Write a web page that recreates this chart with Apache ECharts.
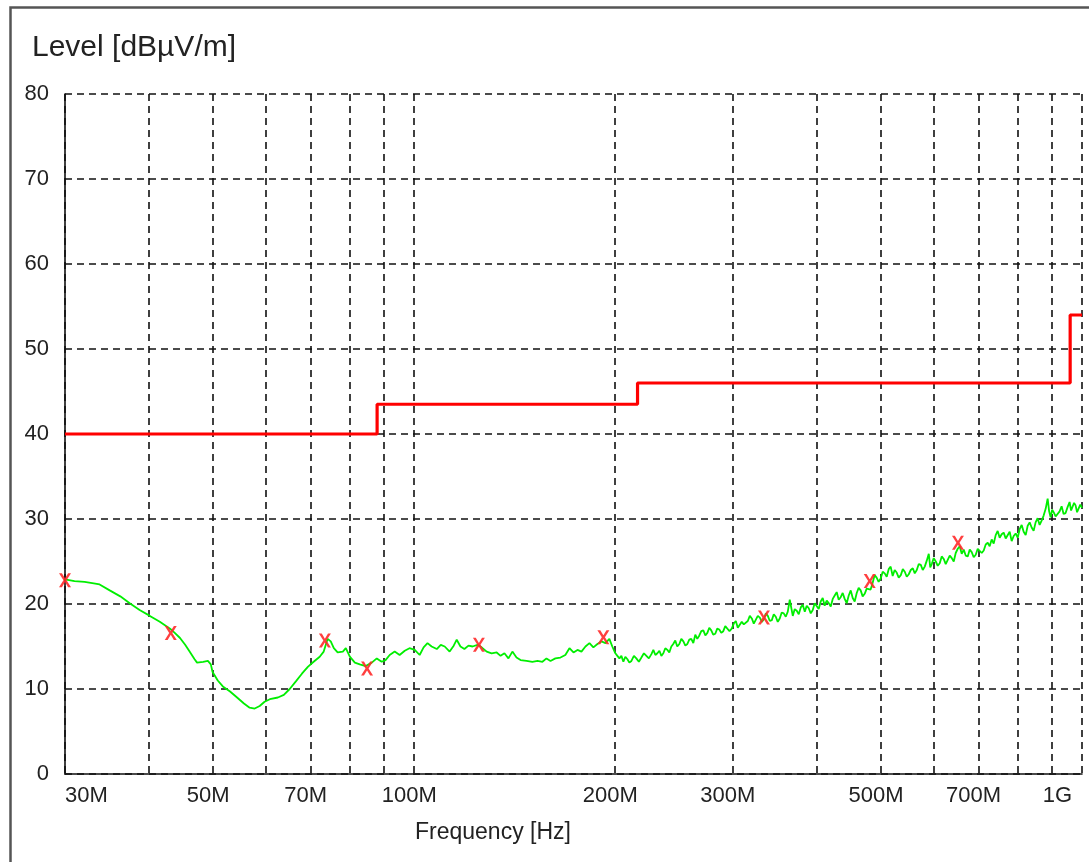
<!DOCTYPE html>
<html><head><meta charset="utf-8">
<script src="https://cdn.jsdelivr.net/npm/echarts@6/dist/echarts.min.js"></script>
<style>html,body{margin:0;padding:0;background:#fff}#c{width:1089px;height:862px}</style>
</head><body><div id="c"></div>
<script>
// Measured trace: frequency in MHz and level in dBuV/m
const freqMHz = [30.0,31.0,32.1,33.3,33.8,35.0,36.3,37.5,38.8,40.2,41.6,43.1,43.8,44.6,45.4,46.1,46.9,47.3,48.3,49.1,49.6,49.9,50.8,51.7,53.0,54.3,55.6,56.7,57.7,58.7,59.7,60.8,62.5,63.8,65.1,66.5,67.9,69.3,70.7,72.2,73.2,74.2,75.0,75.8,76.8,78.2,79.0,80.1,81.5,82.9,84.6,86.4,87.9,89.4,90.6,91.9,93.5,95.1,96.8,98.4,100.2,101.9,103.3,104.7,106.2,108.1,109.6,111.1,113.0,114.6,115.8,117.3,118.9,120.6,122.3,124.4,126.2,128.4,130.6,132.9,134.7,136.5,138.4,140.3,142.3,144.3,147.3,150.3,153.0,155.6,157.8,160.0,162.7,165.6,168.4,170.8,173.2,175.6,178.0,180.5,183.0,185.5,188.1,190.7,193.4,196.0,198.0,
200.1,201.5,202.9,204.3,205.7,207.1,208.6,210.0,211.5,213.3,215.1,217.0,218.9,220.8,222.7,224.6,226.6,228.1,229.7,231.3,232.9,234.5,236.1,237.7,239.4,241.0,242.7,244.3,246.0,247.7,249.5,251.2,253.0,254.7,256.5,258.2,260.0,261.8,263.6,265.4,267.3,269.1,271.0,272.9,274.8,276.6,278.5,280.4,282.4,284.3,286.3,288.3,290.3,292.3,294.3,296.6,298.9,301.0,303.1,305.2,307.3,309.4,311.6,313.7,315.9,318.1,320.3,322.5,324.7,327.0,329.3,331.6,333.9,336.2,338.5,340.8,343.2,345.5,347.9,350.3,352.7,355.1,357.6,360.1,362.6,365.1,368.9,371.4,374.0,376.6,379.2,381.8,384.5,387.1,389.8,392.5,395.2,397.9,400.6,403.4,406.2,409.0,411.8,414.7,417.6,420.5,423.4,426.3,429.2,432.2,435.2,438.2,441.2,444.3,447.4,450.5,453.6,456.7,459.9,463.0,466.2,469.4,472.7,476.0,479.2,482.5,485.9,489.2,492.6,496.0,499.5,503.0,506.5,510.0,513.5,517.0,520.6,524.2,527.8,531.6,535.4,539.1,542.8,546.5,550.3,554.1,558.0,561.8,565.7,569.6,573.6,577.5,581.5,585.5,589.6,592.6,595.7,599.8,604.0,608.1,612.3,616.5,620.8,625.1,629.4,633.8,638.2,642.6,647.0,651.5,656.0,660.5,665.1,669.7,674.4,679.0,683.7,688.4,693.2,698.0,702.8,707.7,712.6,717.5,722.5,727.4,732.4,737.5,742.6,747.7,752.9,758.1,763.4,768.7,774.0,779.3,784.7,790.1,795.6,801.1,806.6,812.2,817.8,823.5,829.2,834.9,840.6,846.4,852.2,858.1,864.1,870.1,876.1,882.2,888.3,892.9,897.5,902.1,906.8,913.1,919.4,925.7,932.1,938.5,945.0,951.5,958.1,963.1,968.1,973.1,978.1,983.2,988.3,994.1,1000];
const levels = [22.9,22.7,22.6,22.4,22.3,21.6,20.9,20.1,19.3,18.6,17.9,17.1,16.6,16.0,15.2,14.4,13.5,13.1,13.2,13.3,12.9,12.0,11.0,10.3,9.7,9.0,8.3,7.8,7.7,8.0,8.5,8.8,9.0,9.3,10.0,10.9,11.8,12.6,13.2,13.8,14.4,15.9,15.6,14.8,14.3,14.4,14.8,13.8,13.1,12.9,12.7,13.1,13.6,13.2,13.4,14.0,14.4,14.0,14.5,14.8,14.6,14.0,14.9,15.4,15.0,14.7,15.2,15.0,14.4,15.1,15.8,15.0,14.7,15.1,15.0,15.2,14.9,14.4,14.2,14.3,13.9,14.2,13.6,14.4,13.7,13.4,13.3,13.2,13.3,13.2,13.6,13.3,13.6,13.7,14.0,14.8,14.3,14.6,14.4,15.0,15.4,14.9,15.3,15.6,15.4,15.9,15.0,
14.2,13.9,13.6,13.9,13.2,13.8,13.5,13.1,13.3,13.9,13.6,13.2,13.7,14.2,13.9,13.6,14.1,14.6,14.0,14.2,14.5,13.9,14.2,14.8,14.6,14.3,15.0,15.3,15.7,15.0,15.3,15.9,15.6,15.1,15.3,15.8,15.9,15.4,16.4,15.9,16.3,16.8,16.9,16.3,16.6,17.2,16.9,16.4,16.5,17.1,17.0,16.6,16.8,17.4,17.3,16.8,17.1,17.7,18.0,17.2,17.3,17.9,17.6,17.4,18.0,18.6,18.3,17.7,17.9,18.6,18.4,17.9,18.2,18.9,18.6,18.0,18.1,18.8,18.5,17.9,18.3,19.0,18.9,18.5,19.1,20.5,18.6,19.4,19.2,18.8,19.6,19.9,19.1,19.8,19.5,18.9,19.3,20.1,19.9,19.4,20.3,20.7,19.8,20.4,20.1,19.7,20.6,21.0,21.4,20.5,20.8,21.3,20.6,20.1,21.0,21.6,20.7,20.3,21.3,21.9,21.6,20.9,21.2,21.8,22.0,21.7,22.5,23.4,23.1,22.6,23.0,23.8,23.6,23.2,24.1,24.4,23.3,24.0,23.7,23.1,23.4,24.1,23.8,23.2,23.5,24.0,24.2,23.6,24.0,24.7,24.6,24.0,24.4,25.1,25.9,24.3,24.7,25.4,25.0,24.5,24.8,25.6,25.3,24.7,24.9,25.7,25.4,25.0,26.0,26.5,26.8,25.9,26.4,25.7,25.6,26.4,26.1,25.5,25.8,26.5,26.6,26.0,26.3,27.0,27.2,26.8,27.6,27.1,28.1,28.6,27.8,28.2,28.4,27.7,27.9,28.5,27.4,28.0,28.3,27.8,28.8,29.3,28.5,28.1,29.2,29.6,29.0,28.6,29.6,30.1,29.3,29.8,30.4,31.2,32.4,30.9,30.2,31.1,30.8,30.3,30.1,30.9,31.5,30.6,30.7,31.4,32.0,31.0,31.2,31.9,31.6,30.8,31.0,31.7,31.3];
// Peak markers
const peakFreqs = [30.0,43.2,73.5,85.0,125,192,334,481,652];
const peakLevels = [22.8,16.6,15.7,12.4,15.2,16.1,18.4,22.7,27.2];
// Limit line (step)
const limitFreqs = [30,88,88,216,216,960,960,1000];
const limitLevels = [40,40,43.5,43.5,46,46,54,54];
// Axis ticks
const xGridTicks = [30,40,50,60,70,80,90,100,200,300,400,500,600,700,800,900,1000];
const xLabelTicks = [30,50,70,100,200,300,500,700,1000];
const xLabelTexts = ['30M','50M','70M','100M','200M','300M','500M','700M','1G'];
const yMin = 0, yMax = 80, yStep = 10;

const FONT = '"Liberation Sans", Arial, sans-serif';
const chart = echarts.init(document.getElementById('c'), null, {renderer: 'canvas'});
const dash = {color: '#111', width: 1.6, type: [7, 5]};
chart.setOption({
  backgroundColor: '#fff',
  animation: false,
  grid: {left: 65, top: 94, right: 7, bottom: 88, containLabel: false},
  xAxis: {
    type: 'log', logBase: 10, min: 30, max: 1000,
    axisLine: {show: true, onZero: false, lineStyle: {color: '#111', width: 1.6}},
    axisTick: {show: false, customValues: xGridTicks},
    splitLine: {show: true, lineStyle: dash},
    minorTick: {show: false}, minorSplitLine: {show: false},
    axisLabel: {
      customValues: xLabelTicks,
      formatter: v => { const i = xLabelTicks.findIndex(t => Math.abs(t - v) < 1e-6 * t); return i >= 0 ? xLabelTexts[i] : ''; },
      fontFamily: FONT, fontSize: 22, color: '#222', margin: 11,
      alignMinLabel: 'left', alignMaxLabel: 'right', padding: [0, 10, 0, 0]
    }
  },
  yAxis: {
    type: 'value', min: yMin, max: yMax, interval: yStep,
    axisLine: {show: true, lineStyle: {color: '#111', width: 1.6}},
    axisTick: {show: false},
    splitLine: {show: true, lineStyle: dash},
    axisLabel: {fontFamily: FONT, fontSize: 22, color: '#222', margin: 16}
  },
  graphic: [
    {type: 'rect', left: 8, top: 5, shape: {width: 1200, height: 1000}, style: {fill: null, stroke: '#555', lineWidth: 2.5}, z: 100, silent: true},
    {type: 'text', left: 32, top: 33, style: {text: 'Level [dBµV/m]', font: '30px ' + FONT, fill: '#222'}},
    {type: 'text', left: 415, top: 821, style: {text: 'Frequency [Hz]', font: '23px ' + FONT, fill: '#222'}}
  ],
  series: [
    {type: 'line', data: limitFreqs.map((f, i) => [f, limitLevels[i]]), symbol: 'none',
     lineStyle: {color: '#ff0000', width: 3.2}, z: 3},
    {type: 'line', data: freqMHz.map((f, i) => [f, levels[i]]), symbol: 'none',
     lineStyle: {color: '#00ee00', width: 1.8}, z: 4},
    {type: 'scatter', data: peakFreqs.map((f, i) => [f, peakLevels[i]]),
     symbol: 'path://M0,0 L2.4,0 L5,4.0 L7.6,0 L10,0 L6.3,5.5 L10,11 L7.6,11 L5,7.0 L2.4,11 L0,11 L3.7,5.5 Z',
     symbolSize: [12, 14], itemStyle: {color: '#ff2a2a', opacity: 0.9}, z: 5}
  ]
});
</script></body></html>
